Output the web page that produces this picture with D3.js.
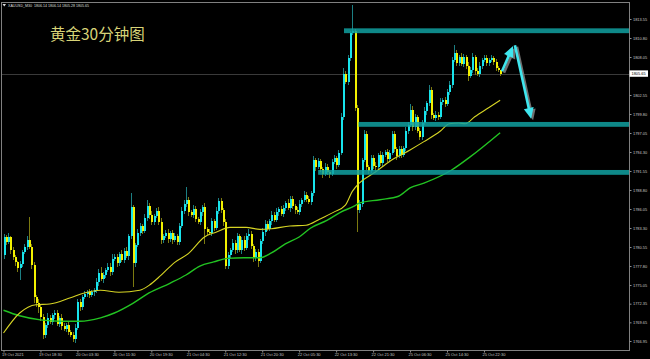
<!DOCTYPE html>
<html>
<head>
<meta charset="utf-8">
<script src="https://cdn.jsdelivr.net/npm/d3@7"></script>
<style>
  body { margin: 0; background: #000; overflow: hidden; }
  svg { display: block; }
</style>
</head>
<body>
<div id="chart"></div>
<script>
// XAUUSD M30 - closes per bar (open = previous close)
const firstOpen = 1779.4;
const closes = [
  1782.0,1781.3,1782.0,1780.1,1779.1,1778.4,1777.5,1778.1,1779.8,1780.6,1781.6,1780.6,
  1777.9,1773.3,1772.5,1771.9,1770.4,1767.8,1769.3,1770.3,1769.7,1770.7,1771.0,1769.4,
  1770.3,1769.1,1768.7,1769.3,1768.3,1767.8,1767.2,1768.8,1772.6,1771.9,1773.3,1773.8,
  1774.0,1773.6,1774.0,1774.3,1775.5,1776.8,1775.9,1776.5,1777.2,1777.7,1776.9,1778.8,
  1779.1,1778.2,1779.5,1778.7,1780.0,1779.3,1782.1,1786.3,1778.2,1780.8,1782.6,1783.6,
  1782.9,1784.7,1786.5,1785.2,1784.2,1785.0,1785.8,1784.2,1781.6,1782.1,1782.6,1781.7,
  1782.6,1781.6,1782.1,1781.3,1783.6,1785.8,1786.8,1787.4,1785.6,1785.2,1786.1,1784.6,
  1784.2,1785.6,1786.3,1783.2,1782.7,1782.6,1784.3,1783.3,1785.8,1787.2,1785.9,1784.2,
  1777.8,1779.4,1780.1,1781.1,1780.1,1782.1,1780.1,1781.6,1780.4,1782.1,1782.4,1780.7,
  1779.0,1779.8,1778.5,1781.4,1782.7,1783.9,1783.2,1784.3,1785.2,1784.5,1785.6,1786.1,
  1785.3,1786.2,1786.9,1786.2,1787.5,1786.5,1785.9,1785.6,1786.8,1787.4,1788.1,1787.5,
  1787.1,1788.4,1793.1,1792.1,1793.0,1791.8,1791.1,1792.1,1791.4,1791.1,1792.9,1793.4,
  1792.4,1794.2,1799.4,1805.6,1804.4,1807.9,1811.5,1811.8,1800.7,1785.9,1786.8,1793.1,
  1796.9,1792.1,1791.6,1793.4,1792.3,1792.1,1793.9,1792.7,1793.9,1794.3,1793.3,1794.2,
  1796.9,1794.7,1793.7,1794.7,1793.9,1794.9,1797.3,1798.2,1800.4,1797.9,1799.4,1797.3,
  1796.5,1798.5,1800.2,1801.4,1803.3,1799.7,1799.2,1799.7,1799.4,1801.5,1801.8,1801.3,
  1803.0,1804.0,1807.6,1808.6,1807.2,1808.1,1807.0,1808.1,1806.8,1805.3,1806.2,1808.1,
  1806.0,1805.6,1806.8,1807.6,1807.9,1807.2,1807.6,1807.9,1807.3,1806.5,1806.14,1805.65
];
// wick lengths above / below the body (price units)
const upperWicks = [
  0.5,0.3,0.6,0.2,0.4,0.3,0.2,0.5,0.3,0.4,0.6,3.3,
  0.4,0.5,0.3,0.6,0.4,0.5,0.3,0.7,0.4,0.3,0.5,0.4,
  0.3,0.5,0.4,0.3,0.4,0.3,0.5,0.6,0.4,0.5,0.3,0.4,
  0.3,0.5,0.4,0.3,0.6,0.5,0.8,0.4,0.3,0.6,0.5,0.7,
  0.4,0.5,0.3,0.6,0.4,0.5,0.3,2.0,0.4,0.3,0.5,0.4,
  0.3,0.6,0.9,0.4,0.5,0.3,0.4,0.6,0.5,0.3,0.4,0.5,
  0.3,0.4,0.5,0.3,0.4,0.6,0.5,1.9,0.4,0.3,0.5,0.4,
  0.3,0.5,0.4,0.6,0.3,0.4,0.5,0.3,0.6,0.4,0.5,0.3,
  0.4,0.5,0.3,0.6,0.4,0.5,0.3,0.4,0.6,0.5,0.7,0.4,
  0.3,0.5,0.4,0.3,0.6,0.5,0.4,0.3,0.5,0.4,0.6,0.3,
  0.4,0.5,0.3,0.6,0.4,0.5,0.3,0.4,0.5,0.3,0.6,0.4,
  0.5,0.3,0.6,0.4,0.5,0.3,0.4,0.6,0.5,0.3,0.4,0.5,
  0.3,0.4,0.6,0.8,0.4,0.5,0.3,3.8,0.3,0.4,0.5,0.4,
  0.6,0.4,0.3,0.5,0.4,0.6,0.3,0.5,0.4,0.3,0.5,0.4,
  0.4,0.5,0.3,0.4,0.5,0.3,0.6,0.4,0.8,0.5,0.4,0.3,
  0.5,0.4,0.6,0.3,0.7,0.4,0.3,0.5,0.4,0.6,0.3,0.5,
  0.4,0.6,0.5,1.2,0.4,0.3,0.5,0.4,0.3,0.5,0.4,0.6,
  0.3,0.4,0.5,0.3,0.4,0.5,0.3,0.4,0.3,0.5,0.3,0.0
];
const lowerWicks = [
  0.6,0.4,0.3,0.5,0.4,0.6,0.5,1.7,0.4,0.3,0.5,0.4,
  0.5,0.8,0.7,0.9,0.6,0.6,0.4,0.5,0.3,0.4,0.5,0.3,
  0.4,0.5,0.3,0.4,0.5,0.3,0.4,0.5,0.3,0.6,0.4,0.3,
  0.5,0.4,0.3,0.5,0.4,0.6,0.3,0.5,0.4,0.3,0.5,0.4,
  0.3,0.5,0.4,0.3,0.5,0.4,0.6,0.4,3.5,0.5,0.3,0.4,
  0.5,0.3,0.4,0.6,0.5,0.4,0.3,0.5,0.6,0.4,0.3,0.5,
  0.4,0.6,0.3,0.5,0.4,0.3,0.5,0.4,0.6,0.3,0.4,0.5,
  0.3,0.4,0.5,2.2,0.4,0.3,0.5,0.4,0.3,0.5,0.4,0.6,
  0.5,0.4,0.6,0.3,0.5,0.4,0.3,0.5,0.4,0.3,0.5,0.4,
  0.6,0.4,0.8,0.3,0.4,0.5,0.3,0.4,0.5,0.3,0.4,0.5,
  0.3,0.4,0.5,0.3,0.6,0.4,0.5,0.3,0.4,0.5,0.3,0.4,
  0.3,0.5,0.4,0.6,0.3,0.4,0.5,0.3,0.4,0.5,0.3,0.4,
  0.5,0.3,0.4,0.5,0.3,0.4,0.5,0.3,0.4,3.2,0.4,0.5,
  0.3,0.4,0.5,0.3,0.4,0.5,0.3,0.4,0.5,0.3,0.4,0.5,
  0.3,0.4,0.5,0.3,0.4,0.3,0.5,0.4,0.3,0.5,0.4,0.3,
  0.5,0.4,0.3,0.5,0.4,0.6,0.3,0.4,0.5,0.3,0.4,0.5,
  0.3,0.4,0.5,0.3,0.4,0.5,0.3,0.4,0.5,0.7,0.3,0.4,
  0.5,0.3,0.4,0.5,0.3,0.4,0.5,0.3,0.4,0.5,0.3,0.37
];

// moving averages, read as [bar, price]
const fastMA = [
  [0,1768.1],[7,1771.0],[14,1772.2],[20,1772.3],[29,1773.2],[35,1773.9],[42,1774.3],
  [50,1774.0],[59,1774.3],[63,1775.0],[68,1776.4],[74,1778.3],[80,1779.6],[87,1782.0],
  [92,1782.7],[98,1783.4],[105,1783.4],[111,1783.1],[116,1783.2],[124,1783.6],[131,1783.7],
  [137,1784.6],[143,1785.6],[148,1786.6],[151,1788.6],[154,1789.8],[161,1791.4],[167,1792.9],
  [176,1794.6],[182,1795.8],[189,1797.3],[193,1798.4],[197,1798.5],[200,1798.4],[204,1799.4],
  [210,1800.7],[215,1801.8]
];
const slowMA = [
  [0,1771.4],[7,1770.6],[16,1770.0],[25,1769.8],[33,1769.8],[42,1770.3],[48,1771.0],
  [56,1772.4],[63,1773.9],[72,1775.3],[79,1776.5],[85,1777.8],[91,1778.4],[97,1778.9],
  [104,1779.0],[111,1779.0],[116,1779.7],[122,1781.0],[128,1782.0],[133,1783.3],[140,1784.4],
  [146,1785.6],[152,1786.5],[154,1786.9],[163,1787.4],[171,1787.9],[176,1789.1],[182,1789.8],
  [194,1791.7],[202,1793.6],[215,1797.1]
];

// 1805.30 sits under the last-price label, so it is left out as in the reference
const priceTicks = [1813.55,1810.80,1808.05,1802.55,1799.80,1797.05,1794.30,1791.55,
  1788.80,1786.05,1783.30,1780.55,1777.80,1775.05,1772.35,1769.65,1766.95];
const timeTickBars = [0,16,32,48,64,80,96,112,128,144,160,176,192,208];
const timeLabels = ["19 Oct 2021","19 Oct 18:30","20 Oct 03:30","20 Oct 11:30","20 Oct 19:30",
  "21 Oct 04:30","21 Oct 12:30","21 Oct 20:30","22 Oct 05:30","22 Oct 13:30","22 Oct 21:30",
  "25 Oct 06:30","25 Oct 14:30","25 Oct 22:30"];

// support / resistance zones
const zoneStartBar = [147.4, 153.7, 136.2];
const zoneHigh = [1812.2, 1798.65, 1791.7];
const zoneLow = [1811.5, 1797.95, 1791.0];

// arrows [bar, price]
const arrowFrom = [[215.8, 1806.0], [221.4, 1809.75]];
const arrowTo = [[220.6, 1809.65], [228.4, 1799.1]];

const lastPrice = 1805.65;
const headerText = "XAUUSD_M30  1806.14 1806.14 1805.28 1805.65";
const title = "黄金30分钟图";

const W = 650, H = 359;
const plot = { left: 1.5, top: 2.5, right: 629.5, bottom: 350.5 };

const svg = d3.select("#chart").append("svg")
  .attr("width", W).attr("height", H)
  .style("background", "#000");

const x = d3.scaleLinear().domain([0, 270]).range([3.5, 3.5 + 270 * 2.31]);
const y = d3.scaleLinear().domain([1766.95, 1813.55]).range([341, 19]);

svg.append("defs").append("clipPath").attr("id", "clip")
  .append("rect")
  .attr("x", plot.left).attr("y", plot.top)
  .attr("width", plot.right - plot.left).attr("height", plot.bottom - plot.top);

const g = svg.append("g").attr("clip-path", "url(#clip)");

// current price line
g.append("line")
  .attr("x1", plot.left).attr("x2", plot.right)
  .attr("y1", Math.round(y(lastPrice)) + 0.5).attr("y2", Math.round(y(lastPrice)) + 0.5)
  .attr("stroke", "#3a3a3a").attr("stroke-width", 1);

// candles
const bars = closes.map((c, i) => {
  const o = i === 0 ? firstOpen : closes[i - 1];
  return {
    i, o, c,
    h: Math.max(o, c) + upperWicks[i],
    l: Math.min(o, c) - lowerWicks[i],
    up: c >= o
  };
});

const candle = g.append("g").attr("shape-rendering", "crispEdges");
candle.selectAll(".wick").data(bars).enter().append("line")
  .attr("class", "wick")
  .attr("x1", d => Math.round(x(d.i)) + 0.5).attr("x2", d => Math.round(x(d.i)) + 0.5)
  .attr("y1", d => y(d.h)).attr("y2", d => y(d.l))
  .attr("stroke", d => d.up ? "#1c7f83" : "#7c7a10");
candle.selectAll(".body").data(bars).enter().append("rect")
  .attr("class", "body")
  .attr("x", d => Math.round(x(d.i)) - 0.5)
  .attr("width", 2)
  .attr("y", d => y(Math.max(d.o, d.c)))
  .attr("height", d => Math.max(1, Math.abs(y(d.o) - y(d.c))))
  .attr("fill", d => d.up ? "#18e4ec" : "#f2f000");

// moving averages
const maLine = d3.line().x(d => x(d[0])).y(d => y(d[1])).curve(d3.curveMonotoneX);
g.append("path").attr("d", maLine(slowMA))
  .attr("fill", "none").attr("stroke", "#22c322").attr("stroke-width", 1.4);
g.append("path").attr("d", maLine(fastMA))
  .attr("fill", "none").attr("stroke", "#d6d424").attr("stroke-width", 1.1);

// zones
g.selectAll(".zone").data(zoneStartBar).enter().append("rect")
  .attr("class", "zone")
  .attr("x", d => x(d))
  .attr("width", d => plot.right - x(d))
  .attr("y", (d, k) => y(zoneHigh[k]))
  .attr("height", (d, k) => y(zoneLow[k]) - y(zoneHigh[k]))
  .attr("fill", "#10a0a0").attr("opacity", 0.85);

// arrows
function drawArrow(x1, y1, x2, y2, color, dx, dy) {
  const a = Math.atan2(y2 - y1, x2 - x1), L = 11, hw = 5;
  const bx = x2 - L * Math.cos(a), by = y2 - L * Math.sin(a);
  const s = Math.sin(a), c = Math.cos(a);
  const ag = g.append("g").attr("transform", `translate(${dx},${dy})`);
  ag.append("line")
    .attr("x1", x1).attr("y1", y1).attr("x2", bx + c).attr("y2", by + s)
    .attr("stroke", color).attr("stroke-width", 2.6);
  ag.append("polygon")
    .attr("points", [[x2, y2], [bx + hw * s, by - hw * c], [bx - hw * s, by + hw * c]].map(p => p.join(",")).join(" "))
    .attr("fill", color);
}
arrowFrom.forEach((p, k) => {
  const q = arrowTo[k];
  drawArrow(x(p[0]), y(p[1]), x(q[0]), y(q[1]), "#6f6f6f", 2, 1.5);
});
arrowFrom.forEach((p, k) => {
  const q = arrowTo[k];
  drawArrow(x(p[0]), y(p[1]), x(q[0]), y(q[1]), "#3fe6ee", 0, 0);
});

// title
svg.append("text")
  .attr("x", 50).attr("y", 40)
  .attr("font-family", "'Noto Sans CJK SC', sans-serif")
  .attr("font-size", 15.5)
  .attr("fill", "#d8d478")
  .text(title);

// header
svg.append("path").attr("d", "M2.5,4 L6,4 L4.25,6.5 Z").attr("fill", "#ddd");
svg.append("text")
  .attr("x", 8).attr("y", 7.3)
  .attr("font-family", "'Liberation Sans', Arial, sans-serif")
  .attr("font-size", 3.6).attr("fill", "#ddd")
  .attr("xml:space", "preserve")
  .text(headerText);

// frame
svg.append("rect")
  .attr("x", plot.left).attr("y", plot.top)
  .attr("width", plot.right - plot.left).attr("height", plot.bottom - plot.top)
  .attr("fill", "none").attr("stroke", "#808080").attr("stroke-width", 1);

// price axis
const yAxis = svg.append("g")
  .attr("transform", `translate(${plot.right},0)`)
  .call(d3.axisRight(y).tickValues(priceTicks).tickFormat(d3.format(".2f")).tickSize(2).tickPadding(1.5));
yAxis.select(".domain").remove();
yAxis.selectAll("line").attr("stroke", "#909090");
yAxis.selectAll("text")
  .attr("font-family", "'Liberation Sans', Arial, sans-serif")
  .attr("font-size", 3.9).attr("fill", "#c8c8c8");

// time axis
const xAxis = svg.append("g")
  .attr("transform", `translate(0,${plot.bottom})`)
  .call(d3.axisBottom(x).tickValues(timeTickBars).tickFormat((d, k) => timeLabels[k]).tickSize(2).tickPadding(1));
xAxis.select(".domain").remove();
xAxis.selectAll("line").attr("stroke", "#909090");
xAxis.selectAll("text")
  .attr("text-anchor", "start")
  .attr("dx", -2)
  .attr("font-family", "'Liberation Sans', Arial, sans-serif")
  .attr("font-size", 4).attr("fill", "#c8c8c8");

// last price label
const ly = y(lastPrice);
svg.append("rect")
  .attr("x", plot.right).attr("y", ly - 3.2)
  .attr("width", 18.5).attr("height", 6.4)
  .attr("fill", "#fff");
svg.append("text")
  .attr("x", plot.right + 2).attr("y", ly + 1.4)
  .attr("font-family", "'Liberation Sans', Arial, sans-serif")
  .attr("font-size", 3.9).attr("fill", "#000")
  .text(d3.format(".2f")(lastPrice));
</script>
</body>
</html>
